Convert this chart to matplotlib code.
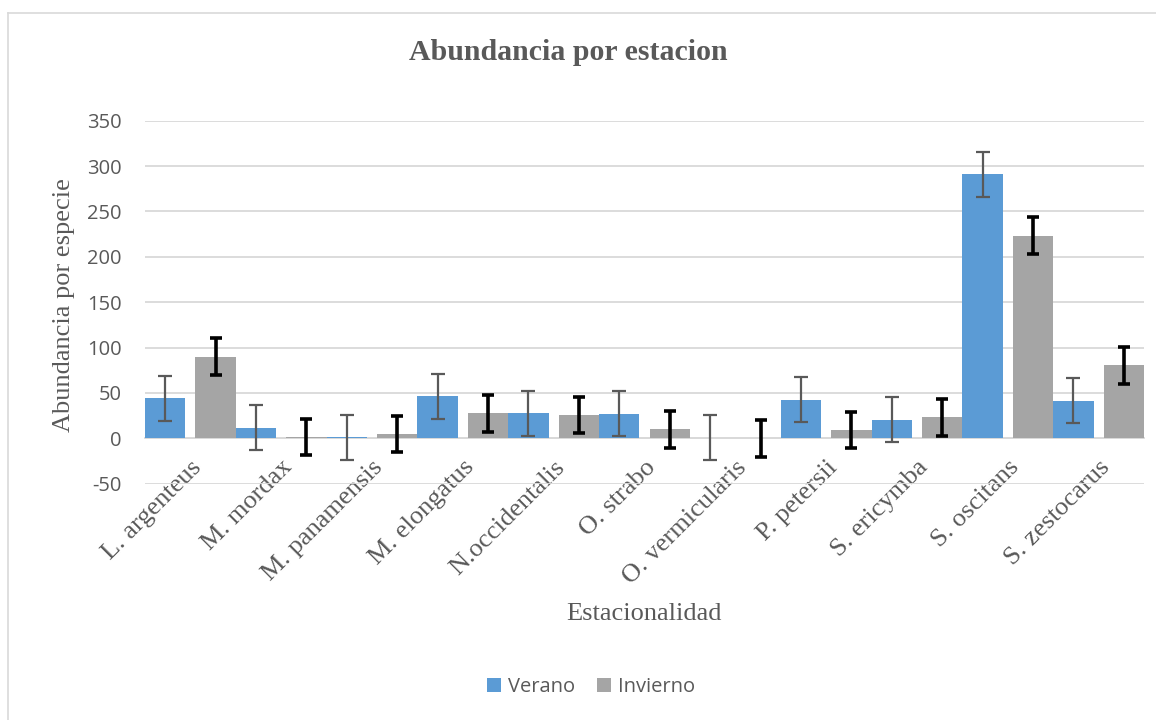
import matplotlib
matplotlib.use('Agg')
import matplotlib.pyplot as plt
from matplotlib.patches import Patch
from matplotlib.lines import Line2D
import numpy as np

plt.rcParams['axes.unicode_minus'] = False

# data
species = ['L. argenteus', 'M. mordax', 'M. panamensis', 'M. elongatus',
           'N.occidentalis', 'O. strabo', 'O. vermicularis', 'P. petersii',
           'S. ericymba', 'S. oscitans', 'S. zestocarus']
verano = [44, 11.7, 1, 46.3, 27.7, 27, 0.8, 42.3, 20.4, 291, 41.5]
invierno = [90, 1.4, 4.7, 27.3, 25.5, 9.9, 0, 9.2, 23.2, 223.4, 80.5]
verano_err = [24.8] * 11
invierno_err = [20.2] * 11
y_ticks = [-50, 0, 50, 100, 150, 200, 250, 300, 350]

TXT = '#595959'
GRID = '#D9D9D9'
BLUE = '#5B9BD5'
GRAY = '#A5A5A5'
SERIF = 'Liberation Serif'
SANS = 'Open Sans'

W, H = 1156, 720
fig = plt.figure(figsize=(W / 100, H / 100), dpi=100)

# axes placed in pixel coordinates of the reference
left, right, top, bottom = 145, 1144, 120.7, 483.6
ax = fig.add_axes([left / W, 1 - bottom / H, (right - left) / W, (bottom - top) / H])

x = np.arange(len(species))
bw = 0.444
off = 0.278
ax.bar(x - off, verano, width=bw, color=BLUE, zorder=2)
ax.bar(x + off, invierno, width=bw, color=GRAY, zorder=2)
ax.errorbar(x - off, verano, yerr=verano_err, fmt='none', ecolor='#595959',
            elinewidth=1.6, capsize=5, capthick=1.6, zorder=3)
ax.errorbar(x + off, invierno, yerr=invierno_err, fmt='none', ecolor='black',
            elinewidth=2.6, capsize=4.5, capthick=2.6, zorder=3)

ax.set_xlim(-0.5, len(species) - 0.5)
ax.set_ylim(-50, 350)
ax.set_yticks(y_ticks)
ax.yaxis.grid(True, color=GRID, linewidth=1.3, zorder=0)
ax.set_axisbelow(True)

for s in ['top', 'right', 'left']:
    ax.spines[s].set_visible(False)
ax.spines['bottom'].set_position(('data', 0))
ax.spines['bottom'].set_color(GRID)
ax.spines['bottom'].set_linewidth(1.3)
ax.spines['bottom'].set_zorder(1)

ax.set_xticks(x)
ax.set_xticklabels(species, rotation=45, ha='right', va='top',
                   rotation_mode='anchor', fontsize=19, family=SERIF, color=TXT)
ax.tick_params(axis='x', length=0, pad=13)
ax.tick_params(axis='y', length=0, pad=17, labelsize=14.5, labelcolor=TXT)
for lab in ax.get_yticklabels():
    lab.set_family(SANS)

fig.text(568 / W, 1 - 53 / H, 'Abundancia por estacion', ha='center', va='center',
         fontsize=21.5, fontweight='bold', family=SERIF, color=TXT)
fig.text(64 / W, 1 - 305 / H, 'Abundancia por especie', rotation=90,
         ha='center', va='center', fontsize=19, family=SERIF, color=TXT)
fig.text(644 / W, 1 - 614 / H, 'Estacionalidad', ha='center', va='center',
         fontsize=19, family=SERIF, color=TXT)

handles = [Patch(facecolor=BLUE, label='Verano'), Patch(facecolor=GRAY, label='Invierno')]
fig.legend(handles=handles, loc='center', bbox_to_anchor=(591 / W, 1 - 687 / H),
           ncol=2, frameon=False, handlelength=0.7, handleheight=0.7,
           handletextpad=0.35, columnspacing=1.1,
           prop={'family': SANS, 'size': 14.5}, labelcolor=TXT)

# chart border (left and top edges only are visible)
fig.add_artist(Line2D([7.5 / W, 7.5 / W], [0, 1 - 12.5 / H], color=GRID, lw=1.2,
                      transform=fig.transFigure))
fig.add_artist(Line2D([7.5 / W, 1], [1 - 12.5 / H, 1 - 12.5 / H], color=GRID, lw=1.2,
                      transform=fig.transFigure))

fig.savefig('out.png', dpi=100)
plt.close(fig)
